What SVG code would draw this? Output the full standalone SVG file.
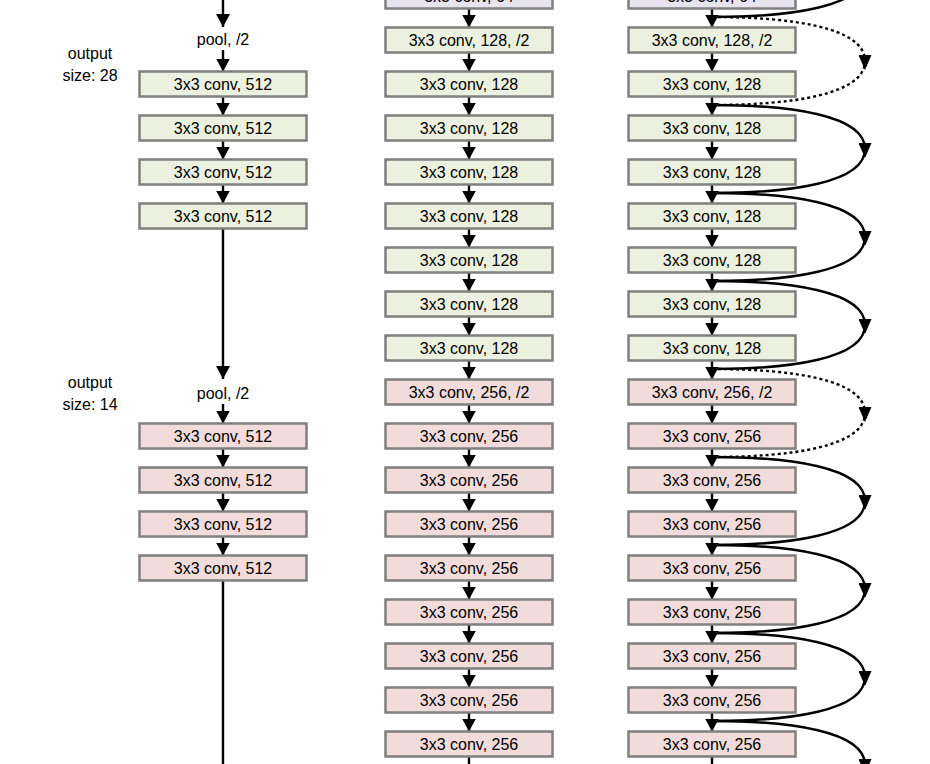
<svg xmlns="http://www.w3.org/2000/svg" width="930" height="764" viewBox="0 0 930 764">
<defs>
<style>
.b{stroke:#7f7f7f;stroke-width:2.5}
.g{fill:#ebf1de}
.p{fill:#f2dcdb}
.v{fill:#e8e4ee}
text{font-family:"Liberation Sans",Arial,sans-serif;font-size:16px;fill:#000;text-anchor:middle}
.a{stroke:#000;stroke-width:2.4;fill:none;marker-end:url(#ah)}
.l{stroke:#000;stroke-width:2.4;fill:none}
.s{stroke:#000;stroke-width:2.4;fill:none;marker-mid:url(#mh)}
.d{stroke-dasharray:3 3}
</style>
<marker id="ah" markerUnits="userSpaceOnUse" markerWidth="13" markerHeight="14" refX="13" refY="7" orient="auto" viewBox="0 0 13 14"><path d="M0,0 L13,7 L0,14 Z" fill="#000"/></marker>
<marker id="mh" markerUnits="userSpaceOnUse" markerWidth="15" markerHeight="13" refX="6" refY="6.5" orient="auto" viewBox="0 0 15 13"><path d="M0,0 L15,6.5 L0,13 Z" fill="#000"/></marker>
</defs>
<rect width="930" height="764" fill="#fff"/>

<g id="labels">
<text x="90" y="59">output</text>
<text x="90" y="81">size: 28</text>
<text x="90" y="388">output</text>
<text x="90" y="410">size: 14</text>
</g>

<g id="connectors">
<line class="a" x1="223" y1="0" x2="223" y2="27"/>
<line class="a" x1="223" y1="50" x2="223" y2="71.5"/>
<line class="a" x1="223" y1="96.5" x2="223" y2="115.5"/>
<line class="a" x1="223" y1="140.5" x2="223" y2="159.5"/>
<line class="a" x1="223" y1="184.5" x2="223" y2="203.5"/>
<line class="a" x1="223" y1="228.5" x2="223" y2="379"/>
<line class="a" x1="223" y1="404" x2="223" y2="423.5"/>
<line class="a" x1="223" y1="448.5" x2="223" y2="467.5"/>
<line class="a" x1="223" y1="492.5" x2="223" y2="511.5"/>
<line class="a" x1="223" y1="536.5" x2="223" y2="555.5"/>
<line class="l" x1="223" y1="580.5" x2="223" y2="770"/>
<line class="a" x1="469" y1="8.5" x2="469" y2="27.5"/>
<line class="a" x1="469" y1="52.5" x2="469" y2="71.5"/>
<line class="a" x1="469" y1="96.5" x2="469" y2="115.5"/>
<line class="a" x1="469" y1="140.5" x2="469" y2="159.5"/>
<line class="a" x1="469" y1="184.5" x2="469" y2="203.5"/>
<line class="a" x1="469" y1="228.5" x2="469" y2="247.5"/>
<line class="a" x1="469" y1="272.5" x2="469" y2="291.5"/>
<line class="a" x1="469" y1="316.5" x2="469" y2="335.5"/>
<line class="a" x1="469" y1="360.5" x2="469" y2="379.5"/>
<line class="a" x1="469" y1="404.5" x2="469" y2="423.5"/>
<line class="a" x1="469" y1="448.5" x2="469" y2="467.5"/>
<line class="a" x1="469" y1="492.5" x2="469" y2="511.5"/>
<line class="a" x1="469" y1="536.5" x2="469" y2="555.5"/>
<line class="a" x1="469" y1="580.5" x2="469" y2="599.5"/>
<line class="a" x1="469" y1="624.5" x2="469" y2="643.5"/>
<line class="a" x1="469" y1="668.5" x2="469" y2="687.5"/>
<line class="a" x1="469" y1="712.5" x2="469" y2="731.5"/>
<line class="l" x1="469" y1="756.5" x2="469" y2="770"/>
<line class="a" x1="712" y1="8.5" x2="712" y2="27.5"/>
<line class="a" x1="712" y1="52.5" x2="712" y2="71.5"/>
<line class="a" x1="712" y1="96.5" x2="712" y2="115.5"/>
<line class="a" x1="712" y1="140.5" x2="712" y2="159.5"/>
<line class="a" x1="712" y1="184.5" x2="712" y2="203.5"/>
<line class="a" x1="712" y1="228.5" x2="712" y2="247.5"/>
<line class="a" x1="712" y1="272.5" x2="712" y2="291.5"/>
<line class="a" x1="712" y1="316.5" x2="712" y2="335.5"/>
<line class="a" x1="712" y1="360.5" x2="712" y2="379.5"/>
<line class="a" x1="712" y1="404.5" x2="712" y2="423.5"/>
<line class="a" x1="712" y1="448.5" x2="712" y2="467.5"/>
<line class="a" x1="712" y1="492.5" x2="712" y2="511.5"/>
<line class="a" x1="712" y1="536.5" x2="712" y2="555.5"/>
<line class="a" x1="712" y1="580.5" x2="712" y2="599.5"/>
<line class="a" x1="712" y1="624.5" x2="712" y2="643.5"/>
<line class="a" x1="712" y1="668.5" x2="712" y2="687.5"/>
<line class="a" x1="712" y1="712.5" x2="712" y2="731.5"/>
<line class="l" x1="712" y1="756.5" x2="712" y2="770"/>
<path class="l" d="M865,-27 C865,7 790,17 712,17"/>
<path class="s d" d="M712,17 C790,17 865,27 865,61 C865,95 790,105 712,105"/>
<path class="s" d="M712,105 C790,105 865,115 865,149 C865,183 790,193 712,193"/>
<path class="s" d="M712,193 C790,193 865,203 865,237 C865,271 790,281 712,281"/>
<path class="s" d="M712,281 C790,281 865,291 865,325 C865,359 790,369 712,369"/>
<path class="s d" d="M712,369 C790,369 865,379 865,413 C865,447 790,457 712,457"/>
<path class="s" d="M712,457 C790,457 865,467 865,501 C865,535 790,545 712,545"/>
<path class="s" d="M712,545 C790,545 865,555 865,589 C865,623 790,633 712,633"/>
<path class="s" d="M712,633 C790,633 865,643 865,677 C865,711 790,721 712,721"/>
<path class="s" d="M712,721 C790,721 865,731 865,765 C865,799 790,809 712,809"/>
</g>

<g id="left-pool1"><text x="223" y="45">pool, /2</text></g>
<g id="left-1"><rect class="b g" x="139.5" y="71.5" width="167" height="25"/><text x="223" y="90">3x3 conv, 512</text></g>
<g id="left-2"><rect class="b g" x="139.5" y="115.5" width="167" height="25"/><text x="223" y="134">3x3 conv, 512</text></g>
<g id="left-3"><rect class="b g" x="139.5" y="159.5" width="167" height="25"/><text x="223" y="178">3x3 conv, 512</text></g>
<g id="left-4"><rect class="b g" x="139.5" y="203.5" width="167" height="25"/><text x="223" y="222">3x3 conv, 512</text></g>
<g id="left-pool2"><text x="223" y="399">pool, /2</text></g>
<g id="left-5"><rect class="b p" x="139.5" y="423.5" width="167" height="25"/><text x="223" y="442">3x3 conv, 512</text></g>
<g id="left-6"><rect class="b p" x="139.5" y="467.5" width="167" height="25"/><text x="223" y="486">3x3 conv, 512</text></g>
<g id="left-7"><rect class="b p" x="139.5" y="511.5" width="167" height="25"/><text x="223" y="530">3x3 conv, 512</text></g>
<g id="left-8"><rect class="b p" x="139.5" y="555.5" width="167" height="25"/><text x="223" y="574">3x3 conv, 512</text></g>

<g id="mid-0"><rect class="b v" x="385.5" y="-16.5" width="167" height="25"/><text x="469" y="2">3x3 conv, 64</text></g>
<g id="mid-1"><rect class="b g" x="385.5" y="27.5" width="167" height="25"/><text x="469" y="46">3x3 conv, 128, /2</text></g>
<g id="mid-2"><rect class="b g" x="385.5" y="71.5" width="167" height="25"/><text x="469" y="90">3x3 conv, 128</text></g>
<g id="mid-3"><rect class="b g" x="385.5" y="115.5" width="167" height="25"/><text x="469" y="134">3x3 conv, 128</text></g>
<g id="mid-4"><rect class="b g" x="385.5" y="159.5" width="167" height="25"/><text x="469" y="178">3x3 conv, 128</text></g>
<g id="mid-5"><rect class="b g" x="385.5" y="203.5" width="167" height="25"/><text x="469" y="222">3x3 conv, 128</text></g>
<g id="mid-6"><rect class="b g" x="385.5" y="247.5" width="167" height="25"/><text x="469" y="266">3x3 conv, 128</text></g>
<g id="mid-7"><rect class="b g" x="385.5" y="291.5" width="167" height="25"/><text x="469" y="310">3x3 conv, 128</text></g>
<g id="mid-8"><rect class="b g" x="385.5" y="335.5" width="167" height="25"/><text x="469" y="354">3x3 conv, 128</text></g>
<g id="mid-9"><rect class="b p" x="385.5" y="379.5" width="167" height="25"/><text x="469" y="398">3x3 conv, 256, /2</text></g>
<g id="mid-10"><rect class="b p" x="385.5" y="423.5" width="167" height="25"/><text x="469" y="442">3x3 conv, 256</text></g>
<g id="mid-11"><rect class="b p" x="385.5" y="467.5" width="167" height="25"/><text x="469" y="486">3x3 conv, 256</text></g>
<g id="mid-12"><rect class="b p" x="385.5" y="511.5" width="167" height="25"/><text x="469" y="530">3x3 conv, 256</text></g>
<g id="mid-13"><rect class="b p" x="385.5" y="555.5" width="167" height="25"/><text x="469" y="574">3x3 conv, 256</text></g>
<g id="mid-14"><rect class="b p" x="385.5" y="599.5" width="167" height="25"/><text x="469" y="618">3x3 conv, 256</text></g>
<g id="mid-15"><rect class="b p" x="385.5" y="643.5" width="167" height="25"/><text x="469" y="662">3x3 conv, 256</text></g>
<g id="mid-16"><rect class="b p" x="385.5" y="687.5" width="167" height="25"/><text x="469" y="706">3x3 conv, 256</text></g>
<g id="mid-17"><rect class="b p" x="385.5" y="731.5" width="167" height="25"/><text x="469" y="750">3x3 conv, 256</text></g>

<g id="res-0"><rect class="b v" x="628.5" y="-16.5" width="167" height="25"/><text x="712" y="2">3x3 conv, 64</text></g>
<g id="res-1"><rect class="b g" x="628.5" y="27.5" width="167" height="25"/><text x="712" y="46">3x3 conv, 128, /2</text></g>
<g id="res-2"><rect class="b g" x="628.5" y="71.5" width="167" height="25"/><text x="712" y="90">3x3 conv, 128</text></g>
<g id="res-3"><rect class="b g" x="628.5" y="115.5" width="167" height="25"/><text x="712" y="134">3x3 conv, 128</text></g>
<g id="res-4"><rect class="b g" x="628.5" y="159.5" width="167" height="25"/><text x="712" y="178">3x3 conv, 128</text></g>
<g id="res-5"><rect class="b g" x="628.5" y="203.5" width="167" height="25"/><text x="712" y="222">3x3 conv, 128</text></g>
<g id="res-6"><rect class="b g" x="628.5" y="247.5" width="167" height="25"/><text x="712" y="266">3x3 conv, 128</text></g>
<g id="res-7"><rect class="b g" x="628.5" y="291.5" width="167" height="25"/><text x="712" y="310">3x3 conv, 128</text></g>
<g id="res-8"><rect class="b g" x="628.5" y="335.5" width="167" height="25"/><text x="712" y="354">3x3 conv, 128</text></g>
<g id="res-9"><rect class="b p" x="628.5" y="379.5" width="167" height="25"/><text x="712" y="398">3x3 conv, 256, /2</text></g>
<g id="res-10"><rect class="b p" x="628.5" y="423.5" width="167" height="25"/><text x="712" y="442">3x3 conv, 256</text></g>
<g id="res-11"><rect class="b p" x="628.5" y="467.5" width="167" height="25"/><text x="712" y="486">3x3 conv, 256</text></g>
<g id="res-12"><rect class="b p" x="628.5" y="511.5" width="167" height="25"/><text x="712" y="530">3x3 conv, 256</text></g>
<g id="res-13"><rect class="b p" x="628.5" y="555.5" width="167" height="25"/><text x="712" y="574">3x3 conv, 256</text></g>
<g id="res-14"><rect class="b p" x="628.5" y="599.5" width="167" height="25"/><text x="712" y="618">3x3 conv, 256</text></g>
<g id="res-15"><rect class="b p" x="628.5" y="643.5" width="167" height="25"/><text x="712" y="662">3x3 conv, 256</text></g>
<g id="res-16"><rect class="b p" x="628.5" y="687.5" width="167" height="25"/><text x="712" y="706">3x3 conv, 256</text></g>
<g id="res-17"><rect class="b p" x="628.5" y="731.5" width="167" height="25"/><text x="712" y="750">3x3 conv, 256</text></g>
</svg>
